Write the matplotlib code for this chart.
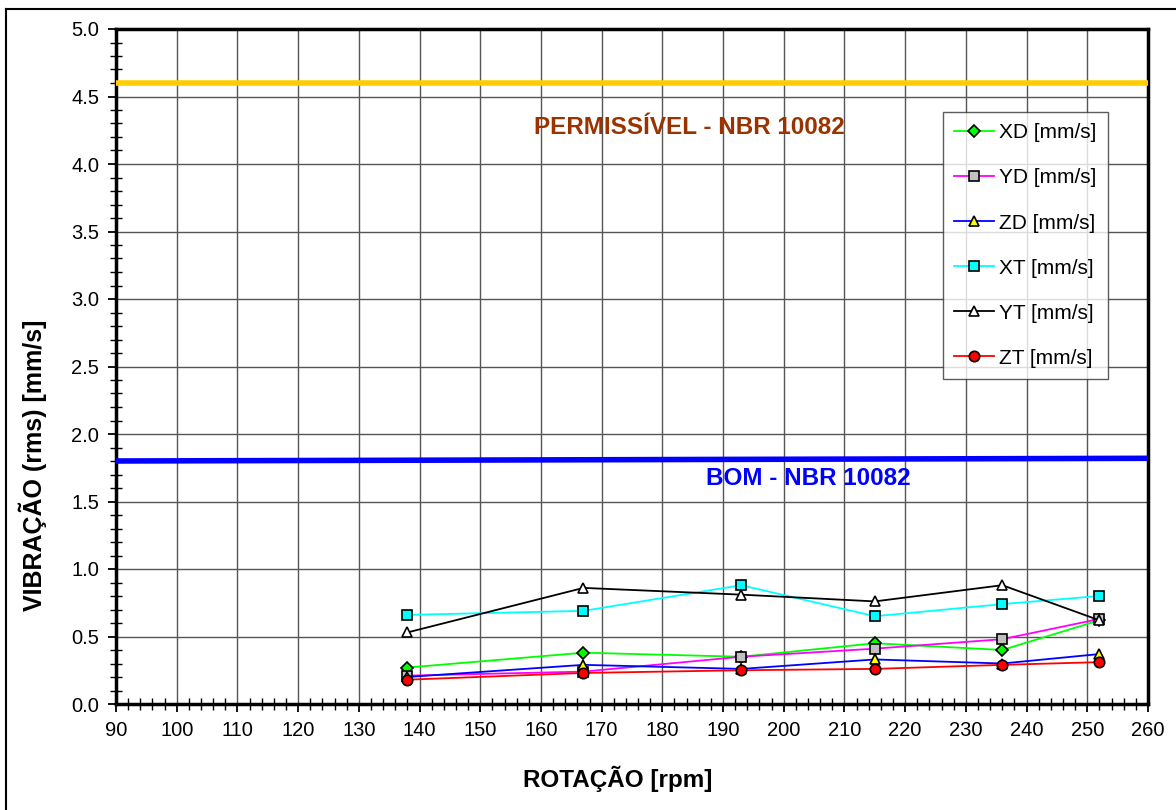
import numpy as np
import matplotlib
matplotlib.use('Agg')
import matplotlib.pyplot as plt
from matplotlib.lines import Line2D
from matplotlib.ticker import MultipleLocator

plt.rcParams['font.family'] = ['Liberation Sans', 'DejaVu Sans']

# rotation [rpm]
rpm = [138, 167, 193, 215, 236, 252]

# vibration rms [mm/s]
xd = [0.27, 0.38, 0.35, 0.45, 0.40, 0.62]
yd = [0.21, 0.24, 0.35, 0.41, 0.48, 0.63]
zd = [0.20, 0.29, 0.26, 0.33, 0.30, 0.37]
xt = [0.66, 0.69, 0.88, 0.65, 0.74, 0.80]
yt = [0.53, 0.86, 0.81, 0.76, 0.88, 0.62]
zt = [0.18, 0.23, 0.25, 0.26, 0.29, 0.31]

# reference limits (NBR 10082)
lim_perm = [4.60, 4.60]
lim_bom = [1.80, 1.82]
lim_x = [90, 260]

series = [
    ('XD [mm/s]', xd, '#00ff00', 'D', '#00ff00', 6.5),
    ('YD [mm/s]', yd, '#ff00ff', 's', '#c0c0c0', 7.5),
    ('ZD [mm/s]', zd, '#0000ff', '^', '#ffff00', 7.5),
    ('XT [mm/s]', xt, '#00ffff', 's', '#00ffff', 7.5),
    ('YT [mm/s]', yt, '#000000', '^', '#ffffff', 7.5),
    ('ZT [mm/s]', zt, '#ff0000', 'o', '#ff0000', 7.5),
]

fig = plt.figure(figsize=(11.76, 8.10), dpi=100)
ax = fig.add_axes([116 / 1176, 1 - 704 / 810, (1148 - 116) / 1176, (704 - 29) / 810])

# outer frame of the chart area
fig.add_artist(Line2D([6 / 1176, 1.0], [1 - 9 / 810, 1 - 9 / 810], color='black', lw=1.5, transform=fig.transFigure))
fig.add_artist(Line2D([6 / 1176, 6 / 1176], [0, 1 - 9 / 810], color='black', lw=1.5, transform=fig.transFigure))

ax.plot(lim_x, lim_perm, color='#ffcc00', lw=4, zorder=3)
ax.plot(lim_x, lim_bom, color='#0000ff', lw=4, zorder=3)

handles = []
for name, vals, c, m, fc, ms in series:
    h, = ax.plot(rpm, vals, color=c, lw=1.3, marker=m, markersize=ms,
                 markerfacecolor=fc, markeredgecolor='black', markeredgewidth=1.2,
                 label=name, zorder=4)
    handles.append(h)

ax.text(184.5, 4.27, 'PERMISSÍVEL - NBR 10082', color='#993300', fontsize=17.5,
        fontweight='bold', ha='center', va='center', zorder=5)
ax.text(204, 1.67, 'BOM - NBR 10082', color='#0000ff', fontsize=17.5,
        fontweight='bold', ha='center', va='center', zorder=5)

ax.set_xlim(90, 260)
ax.set_ylim(0, 5)
ax.xaxis.set_major_locator(MultipleLocator(10))
ax.xaxis.set_minor_locator(MultipleLocator(2))
ax.yaxis.set_major_locator(MultipleLocator(0.5))
ax.yaxis.set_minor_locator(MultipleLocator(0.1))
ax.yaxis.set_major_formatter(plt.FormatStrFormatter('%.1f'))
ax.grid(True, which='major', color='#555555', lw=1.0, zorder=0)
ax.set_axisbelow(True)

ax.tick_params(which='major', direction='out', length=6, width=1.3, labelsize=14.5, pad=6)
ax.tick_params(which='minor', direction='inout', length=8, width=1.0)
for s in ax.spines.values():
    s.set_linewidth(2.5)

ax.set_xlabel('ROTAÇÃO [rpm]', fontsize=17.5, fontweight='bold')
ax.set_ylabel('VIBRAÇÃO (rms) [mm/s]', fontsize=18, fontweight='bold')
ax.xaxis.set_label_coords(0.486, -0.092)
ax.yaxis.set_label_coords(-0.067, 0.354)

leg = ax.legend(handles=handles, loc='upper right',
                bbox_to_anchor=((1108 - 116) / 1032, 1 - (112 - 29) / 675),
                fontsize=15, frameon=True, fancybox=False, edgecolor='#333333',
                labelspacing=1.25, handlelength=1.9, handletextpad=0.25, borderpad=0.55,
                borderaxespad=0, markerscale=1.0)
leg.get_frame().set_linewidth(1.0)
leg.set_zorder(6)

fig.savefig('out.png', dpi=100)
